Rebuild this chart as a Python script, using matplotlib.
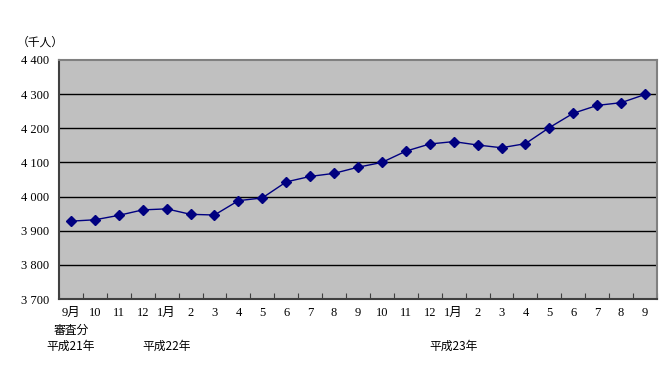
import matplotlib
matplotlib.use("Agg")
import matplotlib.pyplot as plt
import matplotlib.transforms as mtransforms
import numpy as np

# Month labels (Sep 2009 - Sep 2011) and values in thousands
months = ["9月", "10", "11", "12", "1月", "2", "3", "4", "5", "6", "7", "8",
          "9", "10", "11", "12", "1月", "2", "3", "4", "5", "6", "7", "8", "9"]
values = [3928, 3932, 3945, 3961, 3964, 3948, 3946, 3988, 3996, 4043, 4059, 4068,
          4086, 4100, 4133, 4154, 4161, 4151, 4143, 4155, 4202, 4244, 4267, 4275, 4299]
yticks = [3700, 3800, 3900, 4000, 4100, 4200, 4300, 4400]
year_labels = [(0, "平成21年"), (4, "平成22年"), (16, "平成23年")]

fonts = ["Liberation Serif", "Noto Sans CJK JP"]
jp_fonts = ["Noto Sans CJK JP", "DejaVu Sans"]

fig = plt.figure(figsize=(6.71, 3.72), dpi=100)
ax = fig.add_axes([59 / 671, 73 / 372, 598 / 671, 239 / 372])
ax.set_facecolor("#C0C0C0")

x = np.arange(len(values))
ax.plot(x, values, color="#000080", linewidth=1, marker="D", markersize=5, zorder=3)

# horizontal grid
for v in yticks[1:-1]:
    ax.axhline(v, color="black", linewidth=1, zorder=1)

ax.set_xlim(-0.5, len(values) - 0.5)
ax.set_ylim(3700, 4400)

ax.set_yticks(yticks)
ax.set_yticklabels([f"{v // 1000} {v % 1000:03d}" for v in yticks], family=fonts, fontsize=9)
ax.tick_params(axis="y", length=0, pad=7)

# ticks at category boundaries, labels at centers
ax.set_xticks(np.arange(len(values) + 1) - 0.5)
ax.set_xticklabels([])
ax.set_xticks(x, minor=True)
ax.set_xticklabels(months, minor=True, family=fonts, fontsize=9)
ax.tick_params(axis="x", which="major", direction="in", length=4, color="#404040")
ax.tick_params(axis="x", which="minor", length=0, pad=6)

for side in ["left", "bottom"]:
    ax.spines[side].set_color("#404040")
    ax.spines[side].set_linewidth(1.5)
for side in ["top", "right"]:
    ax.spines[side].set_color("#808080")
    ax.spines[side].set_linewidth(1.5)

trans = mtransforms.blended_transform_factory(ax.transData, fig.transFigure)
ax.text(0, 1 - 330 / 372, "審査分", transform=trans, ha="center", va="center",
        family=jp_fonts, fontsize=8.5)
for i, lab in year_labels:
    ax.text(i, 1 - 346 / 372, lab, transform=trans, ha="center", va="center",
            family=jp_fonts, fontsize=8.5)

fig.text(40 / 671, 1 - 42 / 372, "（千人）", ha="center", va="center",
         family=jp_fonts, fontsize=8.5)

fig.savefig("out.png", dpi=100)
